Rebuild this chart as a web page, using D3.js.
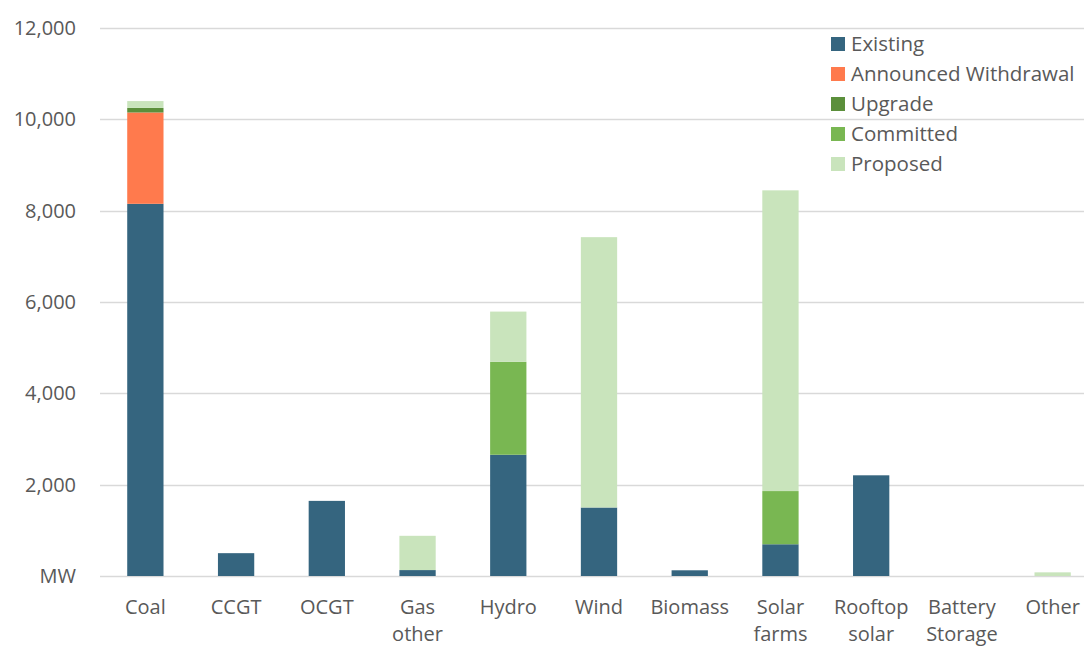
<!DOCTYPE html>
<html>
<head>
<meta charset="utf-8">
<script src="https://cdn.jsdelivr.net/npm/d3@7"></script>
<style>
  body { margin: 0; background: #fff; }
  svg { font-family: "Open Sans", sans-serif; }
</style>
</head>
<body>
<svg id="chart" width="1084" height="646"></svg>
<script>
const categories = ['Coal', 'CCGT', 'OCGT', 'Gas other', 'Hydro', 'Wind', 'Biomass', 'Solar farms', 'Rooftop solar', 'Battery Storage', 'Other'];
const existing   = [8150, 500, 1645, 130, 2655, 1500, 125, 695, 2205, 0, 0];
const withdrawal = [2000, 0, 0, 0, 0, 0, 0, 0, 0, 0, 0];
const upgrade    = [100, 0, 0, 0, 0, 0, 0, 0, 0, 0, 0];
const committed  = [0, 0, 0, 0, 2035, 0, 0, 1165, 0, 0, 0];
const proposed   = [150, 0, 0, 750, 1100, 5920, 0, 6585, 0, 0, 80];
const seriesNames = ['Existing', 'Announced Withdrawal', 'Upgrade', 'Committed', 'Proposed'];
const yTicks = [0, 2000, 4000, 6000, 8000, 10000, 12000];

const colors = {
    'Existing': '#35657f',
    'Announced Withdrawal': '#ff7a4d',
    'Upgrade': '#5b8f3b',
    'Committed': '#79b752',
    'Proposed': '#c9e4bc',
};

const table = categories.map((c, i) => ({
    cat: c,
    'Existing': existing[i],
    'Announced Withdrawal': withdrawal[i],
    'Upgrade': upgrade[i],
    'Committed': committed[i],
    'Proposed': proposed[i],
}));

const svg = d3.select('#chart');
const textColor = '#595959';
const fontSize = '20px';

const x = d3.scaleBand().domain(categories).range([100, 1098]).paddingInner(0.6).paddingOuter(0.3);
const y = d3.scaleLinear().domain([0, 12000]).range([576, 28]);

// gridlines
svg.append('g')
    .selectAll('line')
    .data(yTicks)
    .join('line')
    .attr('x1', 100)
    .attr('x2', 1084)
    .attr('y1', d => Math.round(y(d)) + 0.5)
    .attr('y2', d => Math.round(y(d)) + 0.5)
    .attr('stroke', '#d9d9d9')
    .attr('stroke-width', 1.3);

// y labels
svg.append('g')
    .selectAll('text')
    .data(yTicks)
    .join('text')
    .attr('x', 76)
    .attr('y', d => y(d))
    .attr('dy', '0.35em')
    .attr('text-anchor', 'end')
    .attr('fill', textColor)
    .style('font-size', fontSize)
    .text(d => d === 0 ? 'MW' : d3.format(',')(d));

// stacked bars
const stack = d3.stack().keys(seriesNames)(table);
svg.append('g')
    .selectAll('g')
    .data(stack)
    .join('g')
    .attr('fill', d => colors[d.key])
    .selectAll('rect')
    .data(d => d)
    .join('rect')
    .attr('x', d => x(d.data.cat))
    .attr('width', x.bandwidth())
    .attr('y', d => y(d[1]))
    .attr('height', d => y(d[0]) - y(d[1]));

// x labels, two lines where needed
const xl = svg.append('g')
    .selectAll('text')
    .data(categories)
    .join('text')
    .attr('x', d => x(d) + x.bandwidth() / 2)
    .attr('y', 614)
    .attr('text-anchor', 'middle')
    .attr('fill', textColor)
    .style('font-size', fontSize);
xl.each(function (d) {
    const words = d.split(' ');
    const t = d3.select(this);
    words.forEach((w, i) => {
        t.append('tspan')
            .attr('x', x(d) + x.bandwidth() / 2)
            .attr('dy', i === 0 ? 0 : 27)
            .text(w);
    });
});

// legend
const legend = svg.append('g').attr('transform', 'translate(831, 44)');
const items = legend.selectAll('g')
    .data(seriesNames)
    .join('g')
    .attr('transform', (d, i) => `translate(0, ${i * 30})`);
items.append('rect')
    .attr('x', 0)
    .attr('y', -7)
    .attr('width', 14)
    .attr('height', 14)
    .attr('fill', d => colors[d]);
items.append('text')
    .attr('x', 20)
    .attr('y', 0)
    .attr('dy', '0.35em')
    .attr('fill', textColor)
    .style('font-size', '20.5px')
    .text(d => d);
</script>
</body>
</html>
